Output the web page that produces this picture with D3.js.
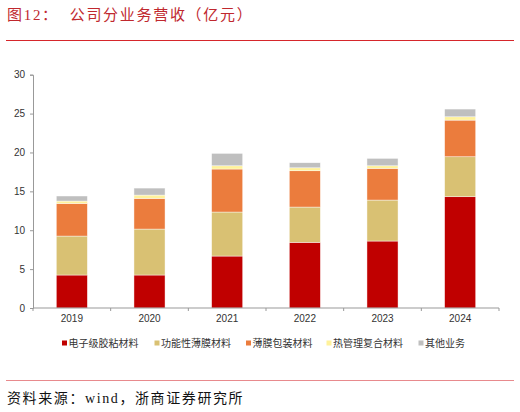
<!DOCTYPE html>
<html><head><meta charset="utf-8">
<script src="https://cdn.jsdelivr.net/npm/d3@7/dist/d3.min.js"></script>
<style>body{margin:0;background:#fff}svg{display:block}</style>
</head><body>
<svg id="c" width="520" height="412"></svg>
<script>
const years = ["2019","2020","2021","2022","2023","2024"];
const seriesNames = ["电子级胶粘材料","功能性薄膜材料","薄膜包装材料","热管理复合材料","其他业务"];
const adhesive = [4.24, 4.24, 6.68, 8.44, 8.61, 14.31];
const film = [5.01, 5.91, 5.66, 4.54, 5.27, 5.14];
const packaging = [4.20, 3.95, 5.53, 4.67, 4.08, 4.71];
const thermal = [0.30, 0.42, 0.42, 0.38, 0.33, 0.43];
const other = [0.65, 0.90, 1.59, 0.65, 0.95, 0.99];
const yTicks = [0, 5, 10, 15, 20, 25, 30];
const colors = ["#C00000", "#D9C173", "#EB7C3D", "#FFF29B", "#BFBFBF"];

const svg = d3.select("#c");
const serif = "'Liberation Serif','Noto Sans CJK SC',serif";
const sans = "'Liberation Sans','Noto Sans CJK SC',Arial,sans-serif";

// title
svg.append("text").attr("x", 7).attr("y", 20).attr("fill", "#C0282E")
  .attr("font-family", serif).attr("font-size", 15).attr("letter-spacing", 1.7)
  .attr("xml:space", "preserve").text("图12：  公司分业务营收（亿元）");
svg.append("line").attr("x1", 6).attr("x2", 514).attr("y1", 40.5).attr("y2", 40.5)
  .attr("stroke", "#D6262B").attr("stroke-width", 1);

const m = {left: 33, right: 499, top: 74.7, bottom: 308};
const x = d3.scaleBand().domain(years).range([m.left, m.right]).paddingInner(0.6).paddingOuter(0.3);
const y = d3.scaleLinear().domain([0, 30]).range([m.bottom, m.top]);

const table = years.map((yr, i) => ({year: yr, s0: adhesive[i], s1: film[i], s2: packaging[i], s3: thermal[i], s4: other[i]}));
const stack = d3.stack().keys(["s0","s1","s2","s3","s4"])(table);

svg.append("g").selectAll("g").data(stack).join("g").attr("fill", (d, i) => colors[i])
  .selectAll("rect").data(d => d).join("rect")
  .attr("x", d => x(d.data.year)).attr("width", x.bandwidth())
  .attr("y", d => y(d[1])).attr("height", d => y(d[0]) - y(d[1]))
  .attr("stroke", "#fff").attr("stroke-width", 0.6).attr("stroke-opacity", 0.7);

// y axis
const ya = svg.append("g").attr("transform", `translate(${m.left},0)`)
  .call(d3.axisLeft(y).tickValues(yTicks).tickSize(3).tickPadding(5));
ya.select(".domain").attr("stroke", "#999");
ya.selectAll(".tick line").attr("stroke", "#999");
ya.selectAll("text").attr("font-family", sans).attr("font-size", 10).attr("fill", "#333");

// x axis
const xa = svg.append("g").attr("transform", `translate(0,${m.bottom})`)
  .call(d3.axisBottom(x).tickSize(0).tickPadding(7));
xa.select(".domain").attr("stroke", "#999").attr("d", `M${m.left},0H${m.right}`);
xa.selectAll("text").attr("font-family", sans).attr("font-size", 10).attr("fill", "#333");
const bounds = d3.range(years.length + 1).map(i => m.left + i * (m.right - m.left) / years.length);
xa.selectAll(".bt").data(bounds).join("line").attr("class", "bt")
  .attr("x1", d => d).attr("x2", d => d).attr("y1", 0).attr("y2", 3).attr("stroke", "#999");

// legend
const legX = [62, 154.5, 246, 326.5, 418.5];
const lg = svg.append("g").selectAll("g").data(seriesNames).join("g")
  .attr("transform", (d, i) => `translate(${legX[i]},343)`);
lg.append("rect").attr("x", 0).attr("y", -2.5).attr("width", 5).attr("height", 5).attr("fill", (d, i) => colors[i]);
lg.append("text").attr("x", 6.5).attr("y", 3.8).attr("font-family", sans).attr("font-size", 10)
  .attr("fill", "#333").text(d => d);

// footer
svg.append("line").attr("x1", 6).attr("x2", 514).attr("y1", 380.5).attr("y2", 380.5)
  .attr("stroke", "#E88A8D").attr("stroke-width", 1);
svg.append("text").attr("x", 7).attr("y", 403).attr("fill", "#111")
  .attr("font-family", serif).attr("font-size", 14).attr("letter-spacing", 1.6)
  .text("资料来源：wind，浙商证券研究所");
</script>
</body></html>
